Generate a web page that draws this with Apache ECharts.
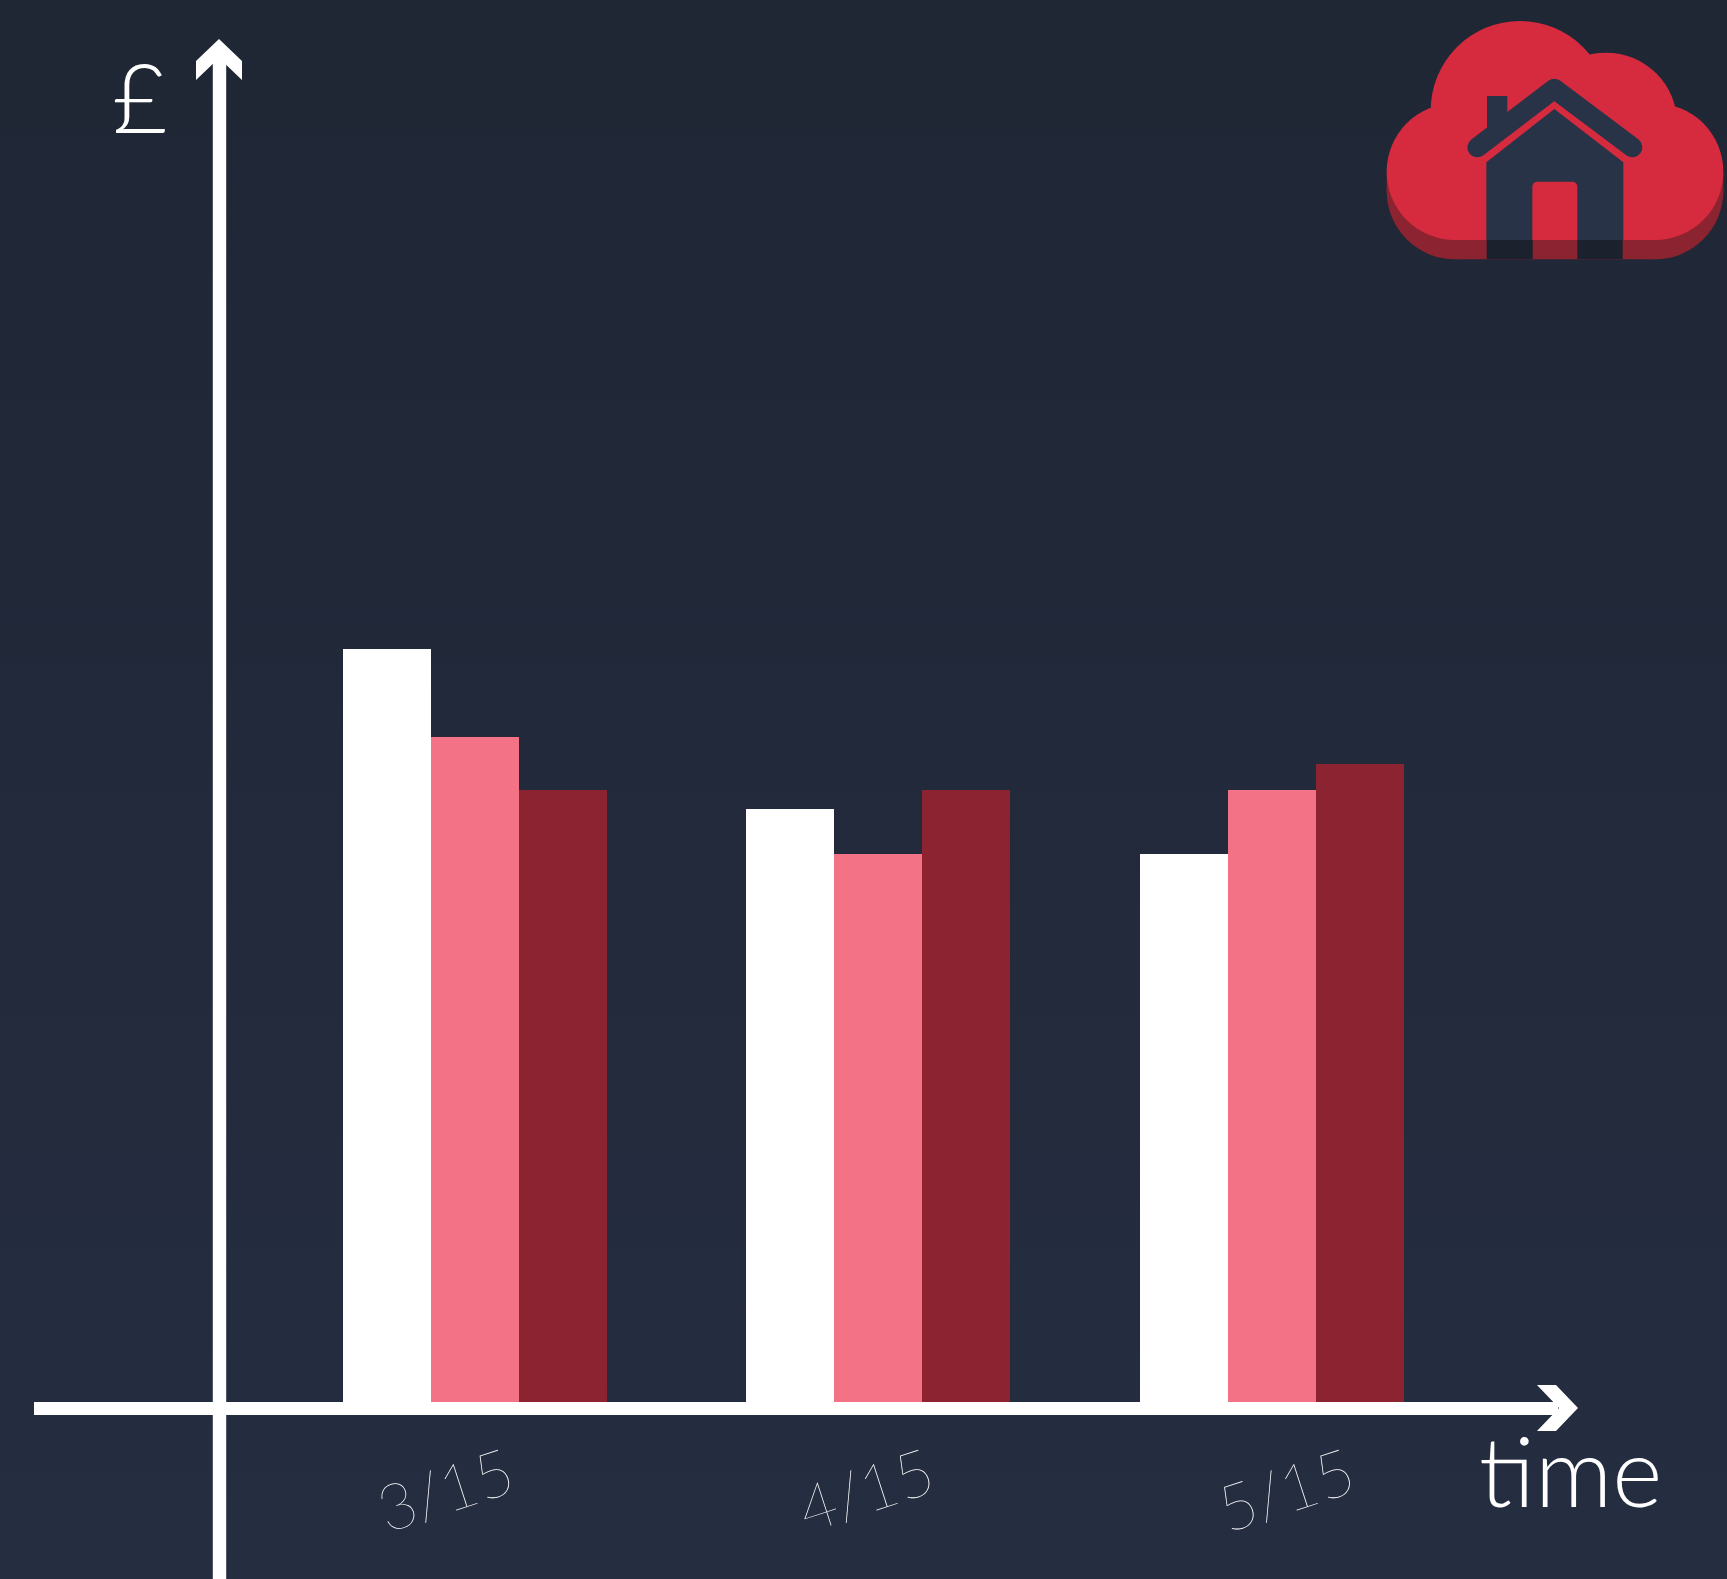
<!DOCTYPE html>
<html>
<head>
<meta charset="utf-8">
<title>£ over time</title>
<script src="https://cdn.jsdelivr.net/npm/echarts@6/dist/echarts.min.js"></script>
<style>
  html, body { margin: 0; padding: 0; background: #222a3a; }
  #chart { width: 1727px; height: 1579px; }
</style>
</head>
<body>
<div id="chart"></div>
<script>
const monthLabels = ['3/15', '4/15', '5/15']
// the bar groups are not evenly spaced in the picture, the month labels are
const groupPositions = [0.64, 1.6475, 2.6325]
const whiteValues = [75.9, 59.9, 55.4]
const pinkValues = [67.1, 55.4, 61.8]
const darkValues = [61.8, 61.8, 64.4]

const arrowPath = 'path://M23 0L46 22L46 41L23 19L0 41L0 22Z'
const white = '#ffffff'
const red = '#d62b3f'
const redShadow = '#8c2330'
const navy = '#293347'
const navyShadow = '#1c212e'

function barSeries(name, values, color) {
  return {
    name,
    type: 'bar',
    barWidth: 88,
    barGap: 0,
    silent: true,
    data: values.map((v, i) => [groupPositions[i], v]),
    itemStyle: { color },
  }
}

function circle(cx, cy, r, fill) {
  return { type: 'circle', shape: { cx, cy, r }, style: { fill } }
}
function rect(x, y, width, height, fill, r) {
  return { type: 'rect', shape: { x, y, width, height, r: r || 0 }, style: { fill } }
}

// the logo top right, coordinates are in 3x units
const logo = {
  type: 'group',
  x: 1370,
  y: 10,
  scaleX: 1 / 3,
  scaleY: 1 / 3,
  silent: true,
  children: [
    circle(255, 543, 205, redShadow),
    circle(855, 543, 205, redShadow),
    rect(50, 485, 1010, 58, redShadow),
    rect(255, 543, 600, 205, redShadow),
    rect(350, 690, 138, 57, navyShadow),
    rect(622, 690, 136, 57, navyShadow),
    circle(255, 485, 205, red),
    circle(855, 485, 205, red),
    circle(450, 301, 268, red),
    circle(708, 342, 214, red),
    rect(255, 301, 600, 389, red),
    { type: 'polygon', shape: { points: [[349, 457], [553, 297], [760, 457], [760, 690], [349, 690]] }, style: { fill: navy } },
    rect(487, 515, 135, 175, red, [15, 15, 0, 0]),
    rect(351, 258, 61, 100, navy),
    { type: 'polyline', shape: { points: [[322, 412], [553, 236], [787, 412]] }, style: { stroke: navy, fill: null, lineWidth: 60, lineCap: 'round', lineJoin: 'round' } },
  ],
}

const chart = echarts.init(document.getElementById('chart'), null, { renderer: 'canvas' })
chart.setOption({
  animation: false,
  backgroundColor: {
    type: 'linear', x: 0, y: 0, x2: 0, y2: 1,
    colorStops: [{ offset: 0, color: '#1f2634' }, { offset: 1, color: '#252d41' }],
  },
  grid: [
    { left: 34, top: 57, width: 1524, bottom: 0 },
    // labels sit on their own evenly spaced band
    { left: 236, top: 1400, width: 1261, height: 10 },
  ],
  xAxis: [
    {
      type: 'value',
      gridIndex: 0,
      min: -0.4625,
      max: 3.3475,
      z: 5,
      axisLine: {
        show: true,
        onZero: true,
        symbol: ['none', arrowPath],
        symbolSize: [46, 41],
        symbolOffset: [0, -0.5],
        lineStyle: { color: white, width: 13, cap: 'butt' },
      },
      axisTick: { show: false },
      axisLabel: { show: false },
      splitLine: { show: false },
    },
    {
      type: 'category',
      gridIndex: 1,
      data: monthLabels,
      axisLine: { show: false },
      axisTick: { show: false },
      axisLabel: {
        rotate: 18,
        align: 'center',
        verticalAlign: 'middle',
        margin: 82,
        color: '#ffffff',
        fontFamily: 'Lato',
        fontWeight: 100,
        fontSize: 64,
      },
    },
  ],
  yAxis: [
    {
      type: 'value',
      gridIndex: 0,
      min: -17.1,
      max: 135.1,
      z: 5,
      axisLine: {
        show: true,
        onZero: true,
        symbol: ['none', arrowPath],
        symbolSize: [46, 41],
        symbolOffset: [0, -2.5],
        lineStyle: { color: white, width: 13.4, cap: 'butt' },
      },
      axisTick: { show: false },
      axisLabel: { show: false },
      splitLine: { show: false },
    },
    { type: 'value', gridIndex: 1, show: false },
  ],
  series: [
    barSeries('White', whiteValues, white),
    barSeries('Pink', pinkValues, '#f47286'),
    barSeries('Dark', darkValues, '#8b2330'),
  ],
  graphic: [
    logo,
    { type: 'text', x: 112, y: 150.5, silent: true, style: { text: '£', fill: white, font: '300 96px Lato', textVerticalAlign: 'bottom' } },
    { type: 'text', x: 1479, y: 1524.5, silent: true, style: { text: 'time', fill: white, font: '300 96px Lato', textVerticalAlign: 'bottom' } },
  ],
})
</script>
</body>
</html>
